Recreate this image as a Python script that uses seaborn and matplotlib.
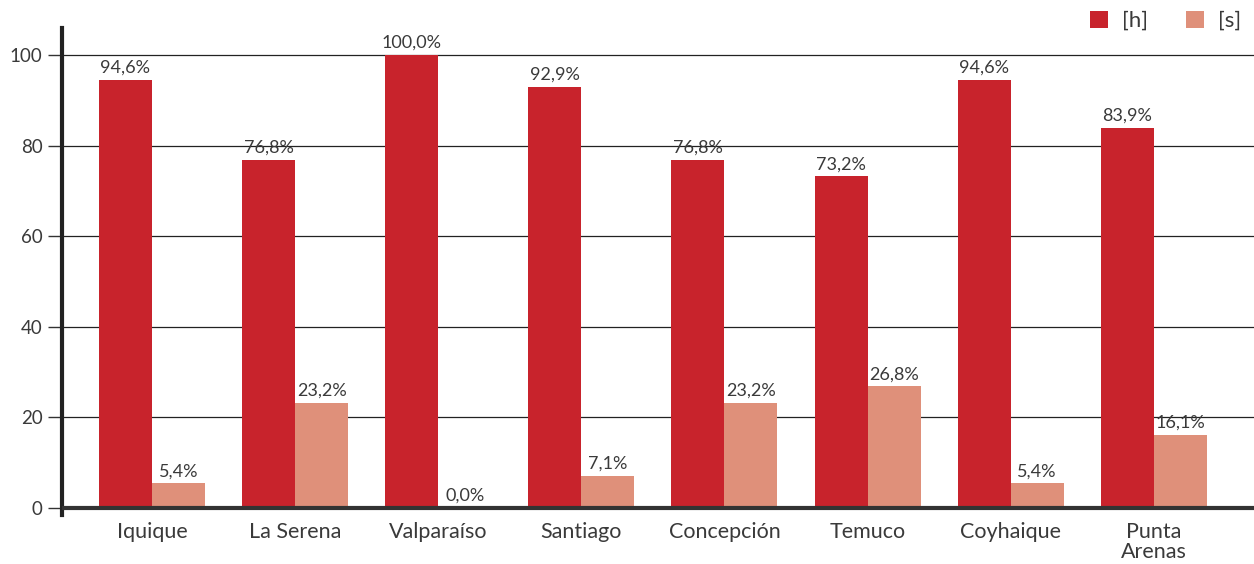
import pandas as pd
import seaborn as sns
import matplotlib.pyplot as plt

# datos
ciudades = ['Iquique', 'La Serena', 'Valparaíso', 'Santiago', 'Concepción',
            'Temuco', 'Coyhaique', 'Punta\nArenas']
valores_h = [94.6, 76.8, 100.0, 92.9, 76.8, 73.2, 94.6, 83.9]
valores_s = [5.4, 23.2, 0.0, 7.1, 23.2, 26.8, 5.4, 16.1]
series = ['[h]', '[s]']
colores = ['#C8232C', '#DF907A']

df = pd.DataFrame({
    'ciudad': ciudades * 2,
    'serie': [series[0]] * len(ciudades) + [series[1]] * len(ciudades),
    'valor': valores_h + valores_s,
})

sns.set_style('white')
plt.rcParams['font.family'] = ['Lato', 'DejaVu Sans']
gris = '#3a3a3a'

fig = plt.figure(figsize=(12.54, 5.64), dpi=100)
ax = fig.add_axes([0.0494, 0.0869, 0.9506, 0.8635])

sns.barplot(data=df, x='ciudad', y='valor', hue='serie', palette=colores,
            width=0.741, gap=0, saturation=1, linewidth=0, ax=ax, zorder=3)

# etiquetas de valor
for cont in ax.containers:
    etiquetas = [f'{b.get_height():.1f}'.replace('.', ',') + '%' for b in cont]
    ax.bar_label(cont, labels=etiquetas, padding=3, fontsize=13, color=gris)

ax.set_ylim(-1.6, 106)
ax.set_xlim(-0.629, 7.70)
ax.set_yticks([0, 20, 40, 60, 80, 100])
ax.yaxis.grid(True, color='#222222', linewidth=0.9, zorder=0)
ax.axhline(0, color='#333333', linewidth=3, zorder=4)

ax.tick_params(axis='y', length=10, width=1, color='#333333', labelsize=13.5,
               labelcolor=gris, pad=4, left=True)
ax.tick_params(axis='x', length=0, labelsize=15.5, labelcolor=gris, pad=5)
for t in ax.get_xticklabels():
    t.set_linespacing(1.0)

for lado in ['top', 'right', 'bottom']:
    ax.spines[lado].set_visible(False)
ax.spines['left'].set_linewidth(3)
ax.spines['left'].set_color('#222222')

ax.set_xlabel('')
ax.set_ylabel('')

handles, labels = ax.get_legend_handles_labels()
ax.get_legend().remove()
fig.legend(handles, labels, loc='center right', bbox_to_anchor=(0.99, 1 - 21 / 564),
           ncol=2, frameon=False, fontsize=16, handlelength=0.8, handleheight=0.8,
           columnspacing=1.7, handletextpad=0.65, borderaxespad=0, borderpad=0,
           labelcolor=gris)

fig.savefig('out.png', dpi=100)
